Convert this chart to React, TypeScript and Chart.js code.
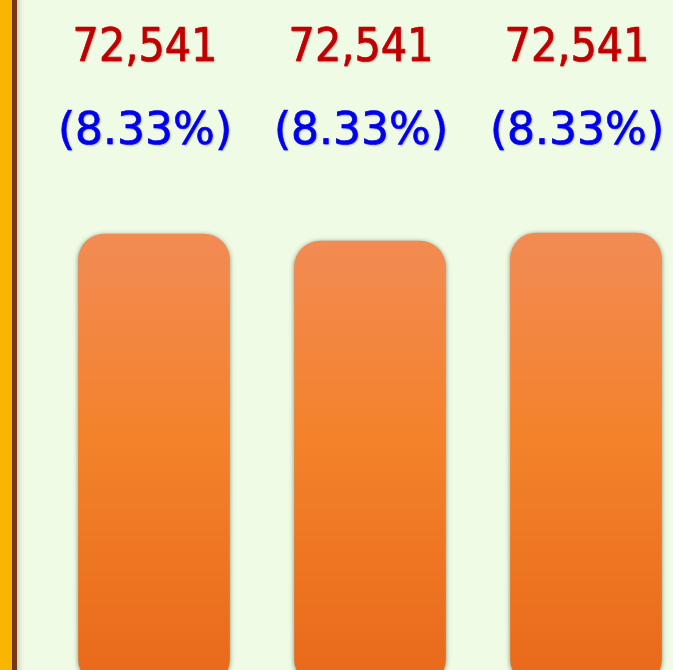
import React, { useEffect, useRef } from "react";
import { Chart, registerables } from "chart.js";

Chart.register(...registerables);

const categories = ["A", "B", "C"];
const barValues = [65.84, 64.82, 65.99];
const countLabels = ["72,541", "72,541", "72,541"];
const percentLabels = ["(8.33%)", "(8.33%)", "(8.33%)"];

const W = 712;
const H = 700;

const decorPlugin = {
  id: "decor",
  beforeDraw(chart: any) {
    const c = chart.ctx;
    c.save();
    c.fillStyle = "#F0FBE6";
    c.fillRect(0, 0, chart.width, chart.height);
    const sh = c.createLinearGradient(17, 0, 26, 0);
    sh.addColorStop(0, "rgba(120,140,110,0.35)");
    sh.addColorStop(1, "rgba(240,251,230,0)");
    c.fillStyle = sh;
    c.fillRect(17, 0, 9, chart.height);
    c.fillStyle = "#F8B600";
    c.fillRect(0, 0, 12, chart.height);
    c.fillStyle = "#74381A";
    c.fillRect(12, 0, 5, chart.height);
    c.restore();
  },
  beforeDatasetsDraw(chart: any) {
    const c = chart.ctx;
    c.save();
    c.shadowColor = "rgba(40,70,40,0.6)";
    c.shadowBlur = 5;
    c.shadowOffsetX = 0;
    c.shadowOffsetY = 1;
  },
  afterDatasetsDraw(chart: any) {
    const c = chart.ctx;
    c.restore();
    const meta = chart.getDatasetMeta(0);
    c.save();
    c.textAlign = "center";
    c.textBaseline = "middle";
    c.lineJoin = "round";
    const shadow = "rgba(60,60,60,0.45)";
    c.shadowBlur = 2;
    c.shadowOffsetX = 1;
    c.shadowOffsetY = 1;
    meta.data.forEach((bar: any, i: number) => {
      const x = bar.x - 9;
      c.font = "46px 'DejaVu Sans Condensed', 'DejaVu Sans', sans-serif";
      c.fillStyle = "#C00000";
      c.strokeStyle = "#C00000";
      c.lineWidth = 0.7;
      c.shadowColor = shadow;
      c.fillText(countLabels[i], x, 49);
      c.shadowColor = "transparent";
      c.strokeText(countLabels[i], x, 49);
      c.font = "44px 'DejaVu Sans', sans-serif";
      c.fillStyle = "#0000F0";
      c.strokeStyle = "#0000F0";
      c.shadowColor = shadow;
      c.fillText(percentLabels[i], x, 133);
      c.shadowColor = "transparent";
      c.strokeText(percentLabels[i], x, 133);
    });
    c.restore();
  },
};

export default function App() {
  const ref = useRef<HTMLCanvasElement>(null);
  useEffect(() => {
    document.body.style.overflow = "hidden";
    const canvas = ref.current!;
    const chart = new Chart(canvas, {
      type: "bar",
      data: {
        labels: categories,
        datasets: [
          {
            data: barValues,
            backgroundColor: (ctx: any) => {
              const ch = ctx.chart;
              if (!ch.chartArea) return "#F28431";
              const y = ch.scales.y;
              const g = ch.ctx.createLinearGradient(0, y.getPixelForValue(66), 0, y.getPixelForValue(0));
              g.addColorStop(0, "#F28B55");
              g.addColorStop(0.45, "#F4822B");
              g.addColorStop(1, "#E8691A");
              return g;
            },
            borderWidth: 0,
            borderRadius: 26,
            borderSkipped: false,
            barThickness: 151,
          },
        ],
      },
      plugins: [decorPlugin],
      options: {
        responsive: false,
        animation: false,
        layout: { padding: { left: 46, right: 18, top: 0, bottom: 15 } },
        plugins: { legend: { display: false }, tooltip: { enabled: false } },
        scales: {
          x: { display: false, offset: true },
          y: { display: false, min: 0, max: 100 },
        },
      },
    } as any);
    return () => chart.destroy();
  }, []);
  return (
    <div style={{ position: "fixed", left: 0, top: 0, width: W, height: H }}>
      <canvas ref={ref} width={W} height={H} style={{ width: W, height: H, display: "block" }} />
    </div>
  );
}
